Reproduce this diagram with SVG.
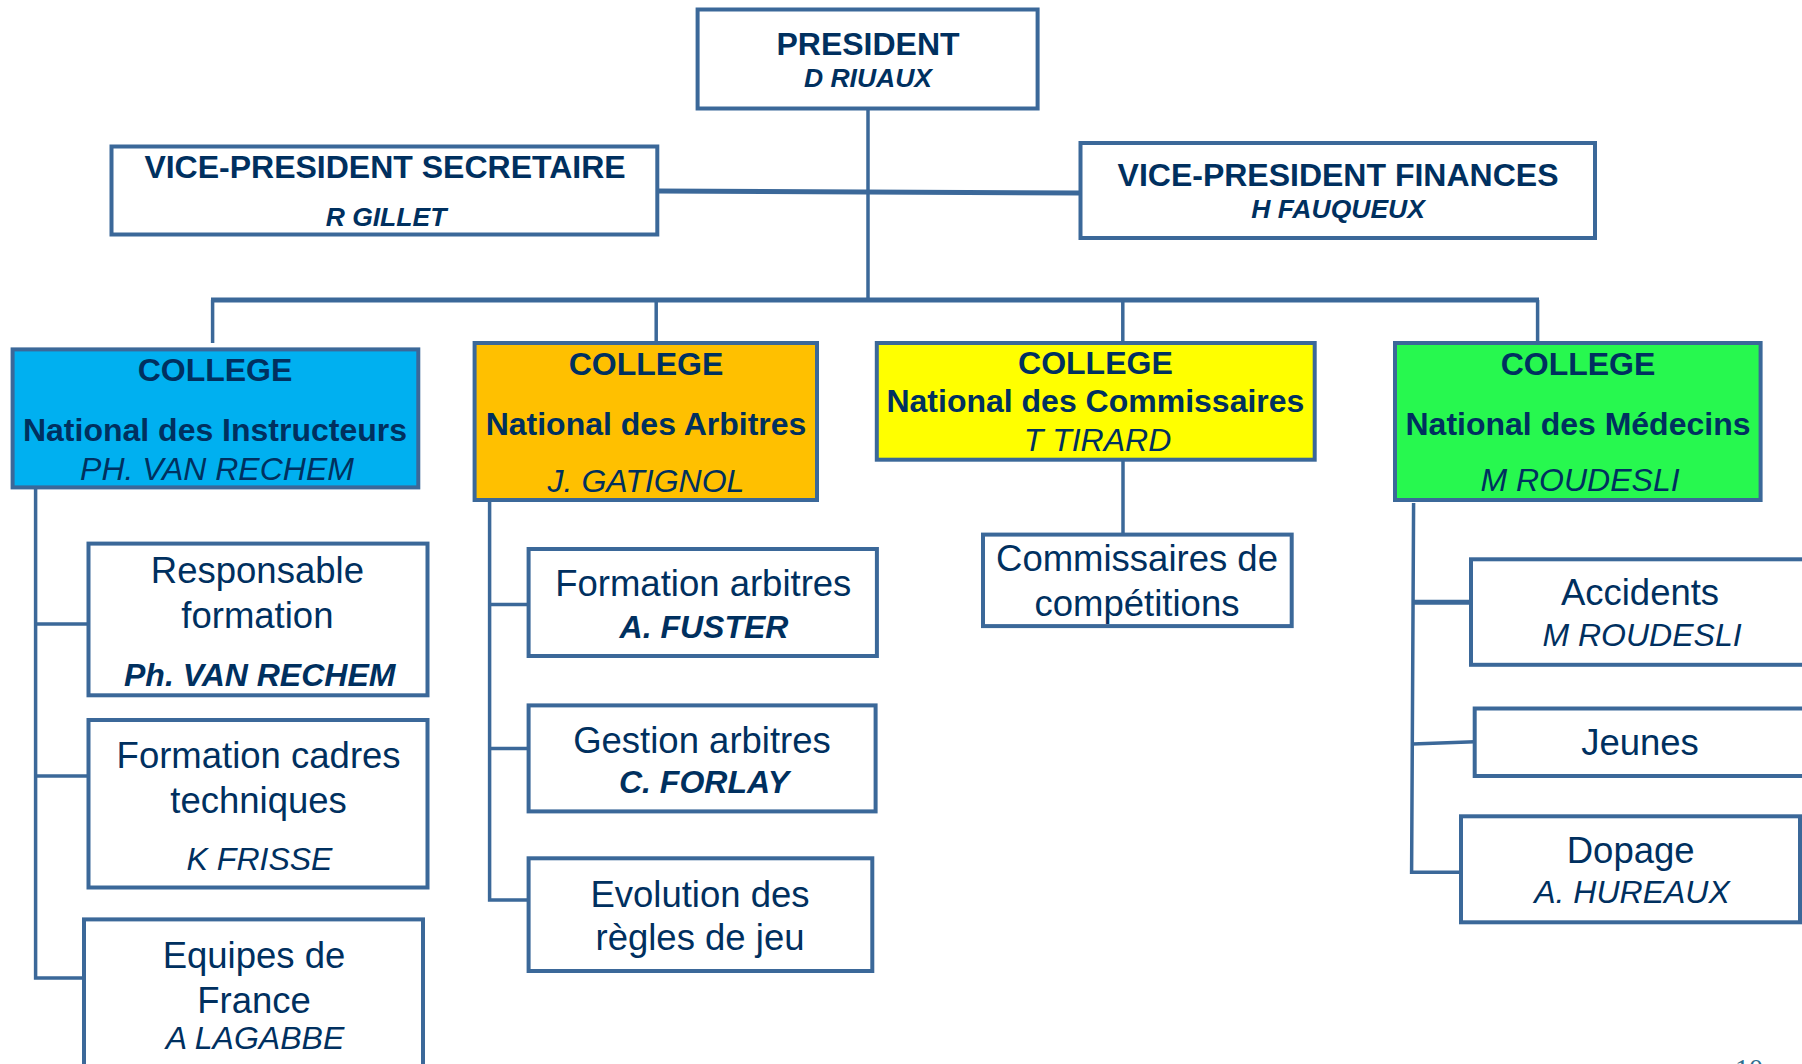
<svg xmlns="http://www.w3.org/2000/svg" width="1802" height="1064" viewBox="0 0 1802 1064">
<style>
.box{fill:#ffffff;stroke:#3b6899;stroke-width:4}
.ln{fill:none;stroke:#3b6899;stroke-width:3.5}
.lt{fill:none;stroke:#3b6899;stroke-width:5}
text{font-family:"Liberation Sans",Arial,sans-serif;fill:#00305f;text-anchor:middle}
.b{font-weight:bold;font-size:32px}
.bi{font-weight:bold;font-style:italic;font-size:26.5px}
.i{font-style:italic;font-size:32px}
.bi2{font-weight:bold;font-style:italic;font-size:32px}
.r{font-size:36.5px}
</style>
<rect width="1802" height="1064" fill="#ffffff"/>
<g id="connectors">
<line class="ln" x1="868" y1="109" x2="868" y2="300"/>
<line class="lt" x1="657" y1="191" x2="1080" y2="193"/>
<line class="lt" x1="211" y1="300" x2="1539" y2="300"/>
<line class="ln" x1="212.6" y1="300" x2="212.6" y2="343"/>
<line class="ln" x1="656.2" y1="300" x2="656.2" y2="343"/>
<line class="ln" x1="1122.8" y1="300" x2="1122.8" y2="343"/>
<line class="ln" x1="1537.6" y1="300" x2="1537.6" y2="343"/>
<line class="ln" x1="1123" y1="459" x2="1123" y2="533"/>
<polyline class="ln" points="35.6,488 35.6,978 86,978"/>
<line class="ln" x1="35.6" y1="624" x2="88.5" y2="624"/>
<line class="ln" x1="35.6" y1="776" x2="88.5" y2="776"/>
<polyline class="ln" points="489.6,496 489.6,900 528.6,900"/>
<line class="ln" x1="489.6" y1="604.5" x2="528.6" y2="604.5"/>
<line class="ln" x1="489.6" y1="748.5" x2="528.6" y2="748.5"/>
<polyline class="ln" points="1413.6,503 1411.6,872.3 1464.7,872.3"/>
<line class="lt" x1="1412" y1="602.3" x2="1474.7" y2="602.3"/>
<line class="ln" x1="1412.5" y1="744" x2="1474.7" y2="741.7"/>
</g>
<g id="president">
<rect class="box" x="697.6" y="9.5" width="340" height="99"/>
<text class="b" x="868" y="55">PRESIDENT</text>
<text class="bi" x="868" y="87">D RIUAUX</text>
</g>
<g id="vp-secretaire">
<rect class="box" x="111.5" y="146.5" width="545.8" height="88"/>
<text class="b" x="385" y="178">VICE-PRESIDENT SECRETAIRE</text>
<text class="bi" x="386" y="226">R GILLET</text>
</g>
<g id="vp-finances">
<rect class="box" x="1080.5" y="143" width="514.5" height="95"/>
<text class="b" x="1338" y="186">VICE-PRESIDENT FINANCES</text>
<text class="bi" x="1338" y="218">H FAUQUEUX</text>
</g>
<g id="college-instructeurs">
<rect class="box" x="12.6" y="349.4" width="405.7" height="138" style="fill:#00b0f0"/>
<text class="b" x="215" y="381">COLLEGE</text>
<text class="b" x="215" y="440.5">National des Instructeurs</text>
<text class="i" x="217" y="479.5">PH. VAN RECHEM</text>
</g>
<g id="college-arbitres">
<rect class="box" x="474.6" y="343" width="342.4" height="157" style="fill:#ffc000"/>
<text class="b" x="646" y="374.5">COLLEGE</text>
<text class="b" x="646" y="434.5">National des Arbitres</text>
<text class="i" x="646" y="491.5">J. GATIGNOL</text>
</g>
<g id="college-commissaires">
<rect class="box" x="876.8" y="343" width="437.9" height="116.7" style="fill:#ffff00"/>
<text class="b" x="1095.4" y="374">COLLEGE</text>
<text class="b" x="1095.4" y="411.5">National des Commissaires</text>
<text class="i" x="1097.5" y="450.5">T TIRARD</text>
</g>
<g id="college-medecins">
<rect class="box" x="1395" y="343" width="365.6" height="157" style="fill:#27f84f"/>
<text class="b" x="1578" y="374.5">COLLEGE</text>
<text class="b" x="1578" y="435">National des Médecins</text>
<text class="i" x="1580" y="491">M ROUDESLI</text>
</g>
<g id="responsable-formation">
<rect class="box" x="88.5" y="543.6" width="339" height="151.7"/>
<text class="r" x="257.4" y="582.6">Responsable</text>
<text class="r" x="257.4" y="627.5">formation</text>
<text class="bi2" x="259.7" y="686">Ph. VAN RECHEM</text>
</g>
<g id="formation-cadres">
<rect class="box" x="88.5" y="720" width="339" height="167.5"/>
<text class="r" x="258.6" y="767.7">Formation cadres</text>
<text class="r" x="258.6" y="812.5">techniques</text>
<text class="i" x="259.5" y="870">K FRISSE</text>
</g>
<g id="equipes-france">
<rect class="box" x="84" y="919.4" width="339" height="170"/>
<text class="r" x="254" y="967.6">Equipes de</text>
<text class="r" x="254" y="1012.5">France</text>
<text class="i" x="255" y="1049">A LAGABBE</text>
</g>
<g id="formation-arbitres">
<rect class="box" x="528.6" y="549" width="348.3" height="107"/>
<text class="r" x="703.3" y="596.4">Formation arbitres</text>
<text class="bi2" x="704" y="637.8">A. FUSTER</text>
</g>
<g id="gestion-arbitres">
<rect class="box" x="528.6" y="705.4" width="347" height="106"/>
<text class="r" x="702" y="752.7">Gestion arbitres</text>
<text class="bi2" x="704" y="793">C. FORLAY</text>
</g>
<g id="evolution-regles">
<rect class="box" x="528.6" y="858.3" width="343.7" height="112.7"/>
<text class="r" x="700" y="906.7">Evolution des</text>
<text class="r" x="700" y="950.4">règles de jeu</text>
</g>
<g id="commissaires-competitions">
<rect class="box" x="983" y="534.6" width="308.7" height="91.5"/>
<text class="r" x="1137" y="571">Commissaires de</text>
<text class="r" x="1137" y="616">compétitions</text>
</g>
<g id="accidents">
<rect class="box" x="1471" y="559.3" width="350" height="105.5"/>
<text class="r" x="1640" y="605">Accidents</text>
<text class="i" x="1642" y="645.7">M ROUDESLI</text>
</g>
<g id="jeunes">
<rect class="box" x="1474.7" y="708.5" width="350" height="67.5"/>
<text class="r" x="1640" y="755">Jeunes</text>
</g>
<g id="dopage">
<rect class="box" x="1461" y="816.3" width="339" height="106"/>
<text class="r" x="1630.7" y="863.3">Dopage</text>
<text class="i" x="1632" y="902.7">A. HUREAUX</text>
</g>
<text x="1749" y="1078" style="font-family:'Liberation Serif',serif;font-size:28px;fill:#2e6e8e">10</text>
</svg>
